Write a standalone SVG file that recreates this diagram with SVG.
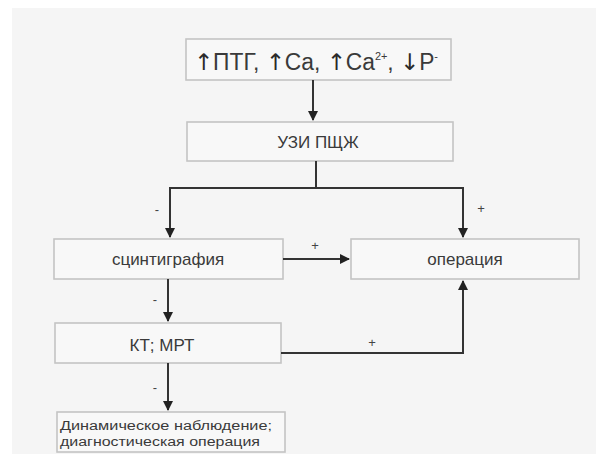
<svg xmlns="http://www.w3.org/2000/svg" width="596" height="454" viewBox="0 0 596 454">
<style>
.box{fill:#f8f8f8;stroke:#c4c4c4;stroke-width:1.6}
.t{font-family:"Liberation Sans",Arial,sans-serif;fill:#3a3a3a}
.ar{font-family:"DejaVu Sans",sans-serif;fill:#2a2a2a}
.ln{fill:none;stroke:#333;stroke-width:2}
.lbl{font-family:"Liberation Sans",Arial,sans-serif;fill:#444;font-size:13px;text-anchor:middle}
</style>
<defs>
<marker id="ah" markerWidth="10" markerHeight="10" refX="9" refY="5" orient="auto" markerUnits="userSpaceOnUse">
<path d="M0,0 L10,5 L0,10 Z" fill="#222"/>
</marker>
</defs>
<rect x="12" y="8" width="584" height="446" fill="#f5f5f5"/>
<g id="n1">
<rect class="box" x="186" y="39" width="265" height="41"/>
<text class="t" x="194" y="70" font-size="23" textLength="244" lengthAdjust="spacingAndGlyphs"><tspan class="ar">↑</tspan>ПТГ, <tspan class="ar">↑</tspan>Ca, <tspan class="ar">↑</tspan>Ca<tspan font-size="11" dy="-10">2+</tspan><tspan dy="10">, </tspan><tspan class="ar">↓</tspan>P<tspan font-size="11" dy="-10">-</tspan></text>
</g>
<g id="n2">
<rect class="box" x="187" y="122" width="266" height="39"/>
<text class="t" x="318" y="148" font-size="17" text-anchor="middle">УЗИ ПЩЖ</text>
</g>
<g id="n3">
<rect class="box" x="54" y="239" width="229" height="40"/>
<text class="t" x="168" y="265" font-size="17" text-anchor="middle">сцинтиграфия</text>
</g>
<g id="n4">
<rect class="box" x="351" y="239" width="228" height="40"/>
<text class="t" x="465" y="265" font-size="17" text-anchor="middle">операция</text>
</g>
<g id="n5">
<rect class="box" x="55" y="323" width="226" height="40"/>
<text class="t" x="162" y="351" font-size="17" text-anchor="middle">КТ; МРТ</text>
</g>
<g id="n6">
<rect class="box" x="57" y="412" width="228" height="40"/>
<text class="t" x="60" y="430" font-size="12.5" textLength="212" lengthAdjust="spacingAndGlyphs">Динамическое наблюдение;</text>
<text class="t" x="60" y="446" font-size="12.5" textLength="200" lengthAdjust="spacingAndGlyphs">диагностическая операция</text>
</g>
<g id="connectors">
<path class="ln" d="M313,80 L313,120" marker-end="url(#ah)"/>
<path class="ln" d="M316,161 L316,188 L170,188 L170,237" marker-end="url(#ah)"/>
<path class="ln" d="M316,188 L463,188 L463,237" marker-end="url(#ah)"/>
<path class="ln" d="M283,259 L349,259" marker-end="url(#ah)"/>
<path class="ln" d="M168,279 L168,321" marker-end="url(#ah)"/>
<path class="ln" d="M281,353 L463,353 L463,281" marker-end="url(#ah)"/>
<path class="ln" d="M168,363 L168,410" marker-end="url(#ah)"/>
<text class="lbl" x="157" y="214">-</text>
<text class="lbl" x="481" y="213">+</text>
<text class="lbl" x="315" y="250">+</text>
<text class="lbl" x="155" y="304">-</text>
<text class="lbl" x="372" y="347">+</text>
<text class="lbl" x="155" y="392">-</text>
</g>
</svg>
